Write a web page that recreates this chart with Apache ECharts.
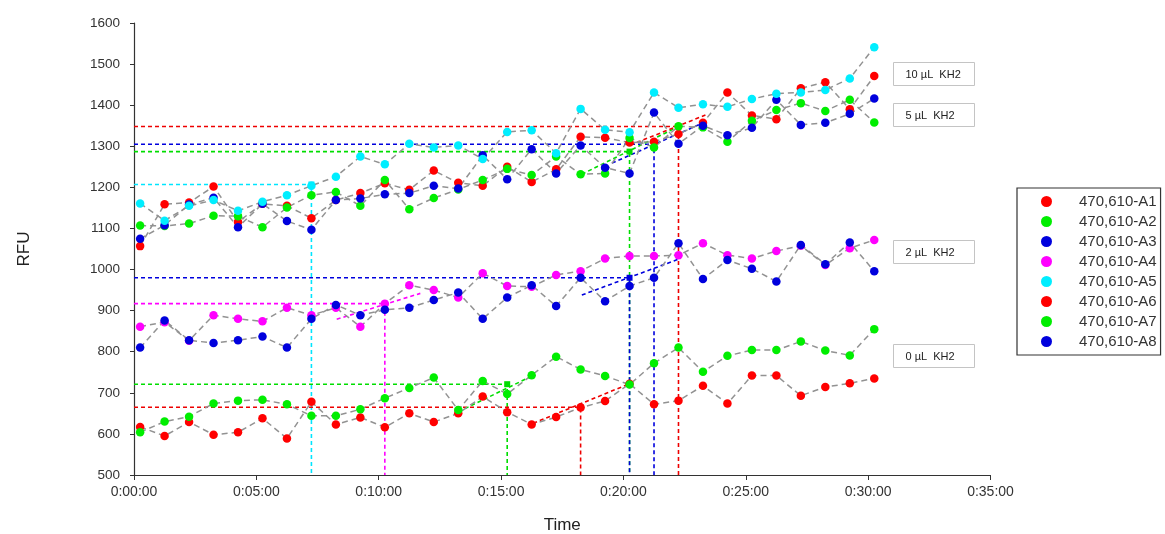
<!DOCTYPE html>
<html>
<head>
<meta charset="utf-8">
<script src="https://cdn.jsdelivr.net/npm/echarts@6/dist/echarts.min.js"></script>
<style>
html,body{margin:0;padding:0;background:#fff;}
#chart{width:1165px;height:534px;}
</style>
</head>
<body>
<div id="chart"></div>
<script>
// time of each reading, seconds
const times = [15,75,135,195,255,315,375,435,495,555,615,675,735,795,855,915,975,1035,1095,1155,1215,1275,1335,1395,1455,1515,1575,1635,1695,1755,1815];

const seriesNames = ['470,610-A1','470,610-A2','470,610-A3','470,610-A4','470,610-A5','470,610-A6','470,610-A7','470,610-A8'];
const seriesColors = ['#ff0000','#00ee00','#0000dd','#ff00ff','#00eeff','#ff0000','#00ee00','#0000dd'];

const A1 = [1057,1159,1163,1202,1116,1160,1155,1125,1169,1186,1210,1194,1241,1211,1204,1250,1213,1244,1323,1321,1309,1311,1330,1357,1431,1375,1366,1441,1456,1390,1471];
const A2 = [1107,1106,1112,1131,1130,1103,1151,1181,1189,1155,1218,1147,1174,1195,1218,1245,1230,1275,1232,1234,1320,1297,1349,1346,1311,1362,1388,1405,1386,1413,1358];
const A3 = [1075,1108,1158,1175,1103,1160,1118,1097,1169,1173,1183,1186,1204,1197,1278,1220,1293,1234,1302,1248,1234,1382,1306,1350,1327,1345,1413,1352,1357,1379,1416];
const A4 = [861,872,827,889,880,874,907,889,907,861,917,962,950,932,991,960,958,987,996,1027,1033,1033,1035,1064,1035,1027,1045,1058,1011,1052,1072];
const A5 = [1161,1119,1155,1169,1143,1165,1181,1204,1226,1275,1256,1306,1297,1302,1269,1335,1339,1283,1391,1340,1334,1431,1394,1402,1396,1415,1428,1431,1437,1465,1541];
const A6 = [617,595,629,598,604,638,589,678,623,640,616,650,629,650,691,653,623,641,664,680,722,672,681,717,674,742,742,693,714,723,735];
const A7 = [604,630,642,674,681,683,672,644,644,660,687,712,737,658,729,697,743,788,757,741,720,772,810,751,790,804,804,825,803,791,855];
const A8 = [810,876,828,821,828,837,810,880,914,889,902,907,926,944,880,932,962,911,980,923,960,980,1064,977,1023,1002,971,1060,1013,1066,996];
const seriesValues = [A1,A2,A3,A4,A5,A6,A7,A8];

// threshold crossings (dashed guide lines)
const thresholdColors = ['#ee0000','#0000dd','#00dd00','#00e5ff','#ff00ff','#0000dd','#00dd00','#ee0000'];
const thresholdValues = [1348,1305,1287,1207,917,980,721,665];
const thresholdTimes  = [1335,1275,1215,435,615,1215,915,1095];

// short fitted trend segments
const trendColors = ['#ff00ff','#0000dd','#00dd00','#ee0000','#00dd00','#0000dd','#ee0000'];
const trendStart = [[497,879],[1098,938],[796,654],[979,626],[1098,1232],[1172,1259],[1217,1303]];
const trendEnd   = [[702,942],[1340,1027],[980,743],[1217,723],[1335,1348],[1393,1356],[1401,1376]];

const xTicksMin = 0, xTicksMax = 2100, xTickStep = 300;
const yMin = 500, yMax = 1600, yStep = 100;

const notes = ['10 µL  KH2','5 µL  KH2','2 µL  KH2','0 µL  KH2'];
const noteTops = [62,103,240,344];

const FONT = 'Liberation Sans, Arial, sans-serif';
function fmt(v){
  const m = Math.floor(v/60), s = Math.round(v%60);
  return '0:' + String(m).padStart(2,'0') + ':' + String(s).padStart(2,'0');
}

const series = [];
thresholdValues.forEach((thr,i)=>{
  series.push({
    type:'line', z:1, silent:true, animation:false,
    symbol:'none',
    lineStyle:{color:thresholdColors[i], width:1.6, type:[4,3]},
    data:[[xTicksMin,thr],{value:[thresholdTimes[i],thr],symbol:'rect',symbolSize:6,itemStyle:{color:thresholdColors[i]}},[thresholdTimes[i],yMin]]
  });
});
trendStart.forEach((s,i)=>{
  series.push({
    type:'line', z:1, silent:true, symbol:'none',
    lineStyle:{color:trendColors[i], width:1.6, type:[4,3]},
    data:[s, trendEnd[i]]
  });
});
seriesNames.forEach((name,i)=>{
  series.push({
    name:name, type:'line', z:3,
    symbol:'circle', symbolSize:8.5, showAllSymbol:true,
    itemStyle:{color:seriesColors[i]},
    lineStyle:{color:'#929292', width:1.5, type:[6,4]},
    data: times.map((t,k)=>[t, seriesValues[i][k]])
  });
});

const graphic = notes.map((txt,i)=>({
  type:'group', left:893, top:noteTops[i],
  children:[
    {type:'rect', shape:{x:0,y:0,width:81,height:23}, style:{fill:'#fff', stroke:'#c4c4c4', lineWidth:1}},
    {type:'text', x:12, y:12, style:{text:txt, font:'11px '+FONT, fill:'#222', verticalAlign:'middle'}}
  ]
}));

const chart = echarts.init(document.getElementById('chart'), null, {renderer:'canvas'});
chart.setOption({
  animation:false,
  backgroundColor:'#fff',
  grid:{left:134, right:174.5, top:23, bottom:59, containLabel:false, outerBoundsMode:'none'},
  xAxis:{
    type:'value', min:xTicksMin, max:xTicksMax, interval:xTickStep,
    name:'Time', nameLocation:'middle', nameGap:42,
    nameTextStyle:{fontSize:17, color:'#222', fontFamily:FONT},
    axisLine:{lineStyle:{color:'#333', width:1.2}},
    axisTick:{show:true, length:5, lineStyle:{color:'#333'}},
    axisLabel:{fontSize:14, color:'#333', fontFamily:FONT, margin:10, formatter:fmt},
    splitLine:{show:false}
  },
  yAxis:{
    type:'value', min:yMin, max:yMax, interval:yStep,
    name:'RFU', nameLocation:'middle', nameGap:101, nameRotate:90,
    nameTextStyle:{fontSize:17, color:'#222', fontFamily:FONT},
    axisLine:{show:true, lineStyle:{color:'#333', width:1.2}},
    axisTick:{show:true, length:4, lineStyle:{color:'#333'}},
    axisLabel:{fontSize:13.5, color:'#333', fontFamily:FONT, margin:14, formatter:(v)=>String(v)},
    splitLine:{show:false}
  },
  legend:{
    data:seriesNames, orient:'vertical', left:1017, top:188,
    icon:'circle', itemWidth:11, itemHeight:11, itemGap:5,
    padding:[6,4,6,24],
    backgroundColor:'#fff', borderColor:'#333', borderWidth:1.2,
    textStyle:{fontSize:15, color:'#333', fontFamily:FONT, lineHeight:14, padding:[0,0,0,22]},
    selectedMode:false
  },
  graphic:graphic,
  series:series
});
</script>
</body>
</html>
